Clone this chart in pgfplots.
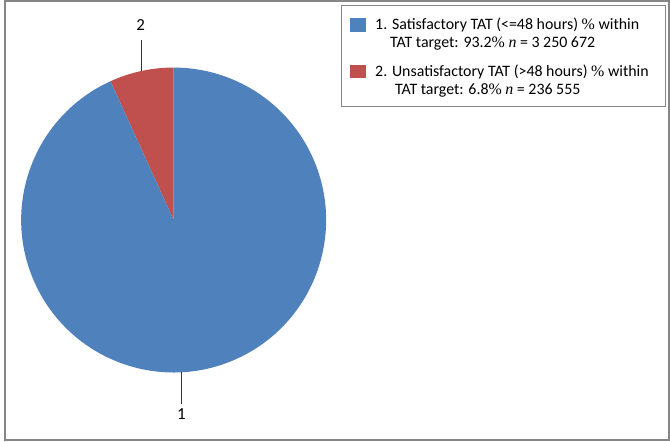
\documentclass[border=0pt]{standalone}
\usepackage{pgfplots}
\pgfplotsset{compat=1.18}
\usepackage{fontspec}
\setmainfont{Carlito}
\newfontfamily\serif{Liberation Serif}

\definecolor{pieblue}{HTML}{4F81BD}
\definecolor{piered}{HTML}{C0504D}
\definecolor{frame}{HTML}{868686}
\tikzset{legtext/.style={anchor=base west, inner sep=0, font=\fontsize{16}{19}\selectfont}}

\begin{document}
\begin{tikzpicture}
  \begin{axis}[
    scale only axis, width=670pt, height=444pt,
    xmin=0, xmax=670, ymin=0, ymax=444,
    hide axis, clip=false
  ]
    % share of each slice, in percent
    \def\pa{93.2}  % satisfactory
    \def\pb{6.8}   % unsatisfactory
    \pgfmathsetmacro\angb{90+3.6*\pb}
    \def\r{153.5}

    % outer frame
    \draw[frame, line width=2pt] (axis cs:1,1) rectangle (axis cs:669,443);

    % slices (2 starts at 12 o'clock and runs anticlockwise)
    \fill[piered] (axis cs:170.3,222.5) -- ++(90:\r pt)
      arc[start angle=90, end angle=\angb, radius=\r pt] -- cycle;
    \fill[pieblue] (axis cs:170.3,222.5) -- ++(\angb:\r pt)
      arc[start angle=\angb, end angle=450, radius=\r pt] -- cycle;

    % slice labels with leader lines
    \draw[black!80, line width=0.9pt] (axis cs:137.7,404) -- (axis cs:137.7,372.5);
    \node[font=\fontsize{17}{20}\selectfont, inner sep=0] at (axis cs:137,419) {2};
    \draw[black!80, line width=0.9pt] (axis cs:178,69) -- (axis cs:178,37);
    \node[font=\fontsize{17}{20}\selectfont, inner sep=0] at (axis cs:178,27) {1};

    % legend
    \draw[frame, line width=0.8pt] (axis cs:339,439) rectangle (axis cs:665,337);
    \fill[pieblue] (axis cs:348,426) rectangle (axis cs:364,412);
    \fill[piered] (axis cs:348,379) rectangle (axis cs:364,365);
    \node[legtext] at (axis cs:373,414)
      {1. Satisfactory TAT (<=48 hours) {\serif\%} within};
    \node[legtext] at (axis cs:388,396)
      {TAT target: 93.2{\serif\%} {\serif\itshape n} = 3 250 672};
    \node[legtext] at (axis cs:373,367)
      {2. Unsatisfactory TAT (>48 hours) {\serif\%} within};
    \node[legtext] at (axis cs:393,349)
      {TAT target: 6.8{\serif\%} {\serif\itshape n} = 236 555};
  \end{axis}
\end{tikzpicture}
\end{document}
